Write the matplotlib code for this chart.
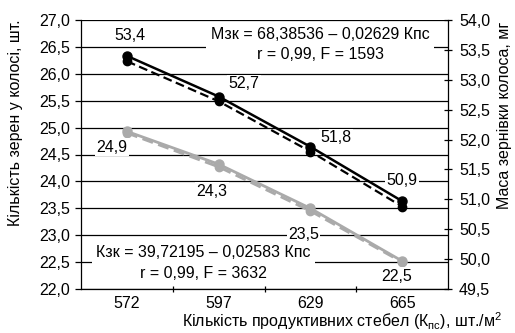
import matplotlib
matplotlib.use('Agg')
import matplotlib.pyplot as plt
from matplotlib.ticker import FuncFormatter, FixedLocator

plt.rcParams['font.family'] = ['Liberation Sans', 'DejaVu Sans']
plt.rcParams['mathtext.fontset'] = 'custom'
plt.rcParams['mathtext.rm'] = 'Liberation Sans'

# дані
stems = ['572', '597', '629', '665']
mass_obs = [53.40, 52.72, 51.88, 50.97]      # маса зернівки колоса, мг
mass_fit = [53.31, 52.64, 51.80, 50.88]
mass_labels = ['53,4', '52,7', '51,8', '50,9']
grains_obs = [24.93, 24.32, 23.50, 22.52]    # кількість зерен у колосі, шт.
grains_fit = [24.90, 24.27, 23.45, 22.50]
grains_labels = ['24,9', '24,3', '23,5', '22,5']

black = '#000000'
gray = '#aaaaaa'
fs = 11.5

comma = FuncFormatter(lambda v, p: f'{v:.1f}'.replace('.', ','))

fig = plt.figure(figsize=(5.15, 3.33), dpi=100)
ax = fig.add_axes([81/515, 1-289/333, (448-81)/515, 269/333])
ax2 = ax.twinx()

x = list(range(len(stems)))

# ліва вісь - кількість зерен
ax.set_xlim(-0.5, len(stems)-0.5)
ax.set_ylim(22.0, 27.0)
ax.yaxis.set_major_locator(FixedLocator([22 + 0.5*i for i in range(11)]))
ax.yaxis.set_major_formatter(comma)
ax.grid(axis='y', color='black', lw=0.9)
ax.set_axisbelow(True)
ax.set_xticks(x)
ax.set_xticklabels(stems)
ax.set_xticks([i + 0.5 for i in range(len(stems)-1)], minor=True)
ax.tick_params(axis='x', which='major', length=0, pad=5, labelsize=fs)
ax.tick_params(axis='x', which='minor', direction='inout', length=5, width=0.9)
ax.tick_params(axis='y', direction='out', length=4, width=0.9, pad=4, labelsize=fs)
for s in ['top', 'right']:
    ax.spines[s].set_visible(False)
for s in ['left', 'bottom']:
    ax.spines[s].set_linewidth(0.9)

ax.plot(x, grains_fit, color=gray, lw=2, ls=(0, (4, 2)), marker='o', ms=6, zorder=3)
ax.plot(x, grains_obs, color=gray, lw=2, marker='o', ms=6.5, zorder=4)

gray_off = [(-15, -16), (-7, -27), (-7, -26), (-5, -15)]
for i, (lab, off) in enumerate(zip(grains_labels, gray_off)):
    ax.annotate(lab, (x[i], grains_obs[i]), xytext=off, textcoords='offset pixels',
                ha='center', va='center', fontsize=fs, zorder=5,
                bbox=dict(facecolor='white', edgecolor='none', pad=1))

# права вісь - маса зернівки
ax2.set_ylim(49.5, 54.0)
ax2.yaxis.set_major_locator(FixedLocator([49.5 + 0.5*i for i in range(10)]))
ax2.yaxis.set_major_formatter(comma)
ax2.tick_params(axis='y', direction='inout', length=6, width=0.9, pad=5, labelsize=fs)
for s in ['top', 'left', 'bottom']:
    ax2.spines[s].set_visible(False)
ax2.spines['right'].set_linewidth(0.9)

ax2.plot(x, mass_fit, color=black, lw=1.6, ls=(0, (4, 2)), marker='o', ms=6, zorder=3)
ax2.plot(x, mass_obs, color=black, lw=1.8, marker='o', ms=6.5, zorder=4)

black_off = [(3, 20), (25, 13), (26, 9), (0, 21)]
for i, (lab, off) in enumerate(zip(mass_labels, black_off)):
    ax2.annotate(lab, (x[i], mass_obs[i]), xytext=off, textcoords='offset pixels',
                 ha='center', va='center', fontsize=fs, zorder=5,
                 bbox=dict(facecolor='white', edgecolor='none', pad=1))

# рівняння регресії
ax2.text(0.652, 0.908, 'Мзк = 68,38536 – 0,02629 Кпс\nr = 0,99, F = 1593',
         transform=ax2.transAxes, ha='center', va='center', fontsize=fs,
         linespacing=1.45, zorder=5,
         bbox=dict(facecolor='white', edgecolor='none', pad=3.5))
ax2.text(0.333, 0.096, 'Кзк = 39,72195 – 0,02583 Кпс\nr = 0,99, F = 3632',
         transform=ax2.transAxes, ha='center', va='center', fontsize=fs,
         linespacing=1.45, zorder=5,
         bbox=dict(facecolor='white', edgecolor='none', pad=3))

# підписи осей
fig.text(16/515, 1-123/333, 'Кількість зерен у колосі, шт.', rotation=90,
         ha='center', va='center', fontsize=fs)
fig.text(504/515, 1-115/333, 'Маса зернівки колоса, мг', rotation=90,
         ha='center', va='center', fontsize=fs)
fig.text(342/515, 1-321/333,
         r'Кількість продуктивних стебел (К$_{\mathregular{пс}}$), шт./м$^{\mathregular{2}}$',
         ha='center', va='center', fontsize=fs)

fig.savefig('out.png', dpi=100)
